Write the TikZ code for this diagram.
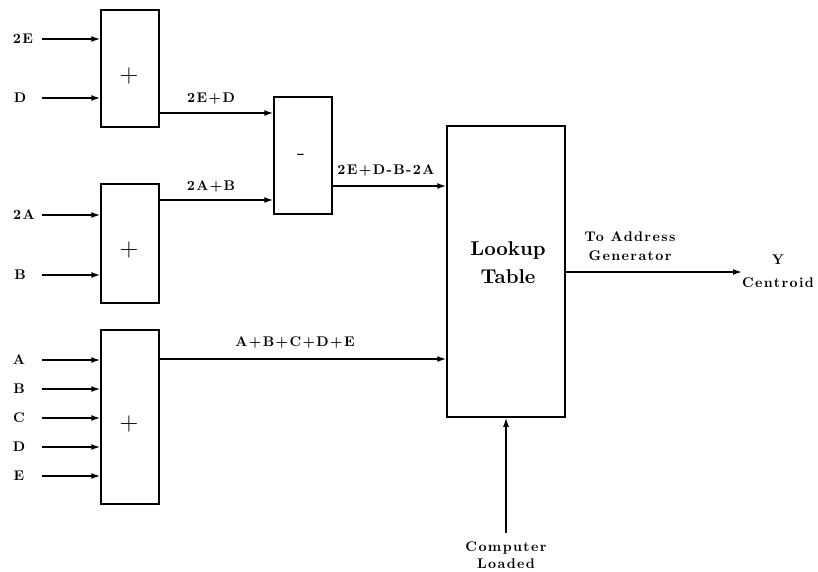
\documentclass[tikz,border=0pt]{standalone}
\usepackage{fontspec}
\usetikzlibrary{arrows.meta}
\newfontfamily\lblfam{lmroman10-bold}[Extension=.otf, LetterSpace=10]
\newfontfamily\lutfam{lmroman10-bold}[Extension=.otf]
\newcommand\lblfont{\lblfam\fontsize{14}{19}\selectfont}
\newcommand\lutfont{\lutfam\fontsize{20}{28}\selectfont}
\begin{document}
\begin{tikzpicture}[x=1pt,y=-1pt,
  box/.style={draw, line width=1.5pt, inner sep=0pt},
  arr/.style={line width=1.5pt, -{Latex[length=9pt,width=6pt]}},
  lbl/.style={font=\lblfont, inner sep=0pt, align=center},
  sym/.style={font=\fontsize{26}{26}\selectfont, inner sep=0pt}]
\useasboundingbox (0,0) rectangle (818,571);
% boxes
\node[box, minimum width=58pt, minimum height=117pt] (add1) at (130,68.5) {};
\node[box, minimum width=58pt, minimum height=119pt] (add2) at (130,243.5) {};
\node[box, minimum width=58pt, minimum height=174pt] (add3) at (130,417) {};
\node[box, minimum width=58pt, minimum height=117pt] (sub) at (303,155.5) {};
\node[box, minimum width=118pt, minimum height=291pt] (lut) at (506,271.5) {};
% symbols
\node[sym] (p1) at (129,76) {+};
\node[sym] (p2) at (129,250) {+};
\node[sym] (p3) at (129,424) {+};
\node[sym] (m1) at (301,157) {-};
\node[font=\lutfont, align=center, inner sep=0pt] (luttext) at (508,263) {Lookup\\Table};
% input labels
\node[lbl] (l2E) at (23,39) {2E};
\node[lbl] (lD1) at (20,98) {D};
\node[lbl] (l2A) at (24,215) {2A};
\node[lbl] (lB1) at (20,275) {B};
\node[lbl] (lA) at (19,360) {A};
\node[lbl] (lB2) at (19,389) {B};
\node[lbl] (lC) at (19,418) {C};
\node[lbl] (lD2) at (19,447) {D};
\node[lbl] (lE) at (19,476) {E};
% input coordinates
\coordinate (s2E) at (42,39);
\coordinate (sD1) at (42,98);
\coordinate (s2A) at (42,215);
\coordinate (sB1) at (42,275);
\coordinate (sA) at (42,360);
\coordinate (sB2) at (42,389);
\coordinate (sC) at (42,418);
\coordinate (sD2) at (42,447);
\coordinate (sE) at (42,476);
\foreach \s/\b in {s2E/add1, sD1/add1, s2A/add2, sB1/add2, sA/add3, sB2/add3, sC/add3, sD2/add3, sE/add3}
  \draw[arr] (\s) -- (\s -| \b.west);
% internal connectors
\coordinate (o1) at (add1.east |- 0,113);
\coordinate (o2) at (add2.east |- 0,200);
\coordinate (o3) at (sub.east |- 0,186);
\coordinate (o4) at (add3.east |- 0,359);
\draw[arr] (o1) -- (o1 -| sub.west);
\draw[arr] (o2) -- (o2 -| sub.west);
\draw[arr] (o3) -- (o3 -| lut.west);
\draw[arr] (o4) -- (o4 -| lut.west);
\node[lbl] (t1) at (211,99) {2E+D};
\node[lbl] (t2) at (211,187) {2A+B};
\node[lbl] (t3) at (386,171) {2E+D-B-2A};
\node[lbl] (t4) at (295,343) {A+B+C+D+E};
% output
\coordinate (yo) at (lut.east |- 0,272);
\coordinate (yend) at (742,272);
\draw[arr] (yo) -- (yend);
\node[lbl] (t5) at (630,246.5) {To Address\\Generator};
\node[lbl] (t6) at (778,271.5) {Y\\[4pt]Centroid};
% bottom
\coordinate (cl) at (506,533);
\draw[arr] (cl) -- (cl |- lut.south);
\node[lbl] (t7) at (506,555.5) {Computer\\[-2pt]Loaded};
\end{tikzpicture}
\end{document}
